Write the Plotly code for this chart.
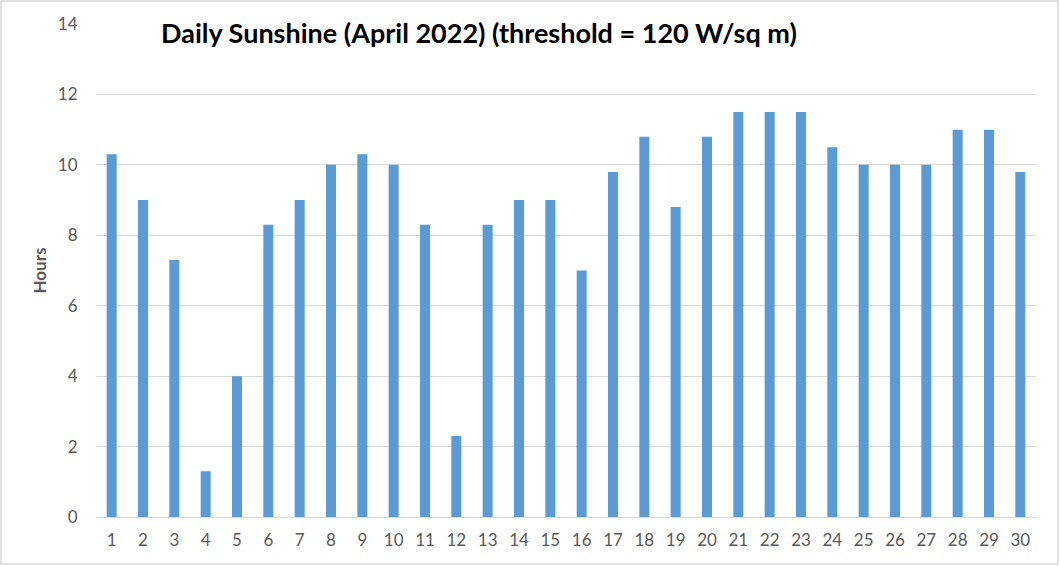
import plotly.graph_objects as go

days = [str(d) for d in range(1, 31)]
hours = [10.3, 9, 7.3, 1.3, 4, 8.3, 9, 10, 10.3, 10, 8.3, 2.3, 8.3, 9, 9, 7,
         9.8, 10.8, 8.8, 10.8, 11.5, 11.5, 11.5, 10.5, 10, 10, 10, 11, 11, 9.8]
y_ticks = [0, 2, 4, 6, 8, 10, 12, 14]
title_text = "Daily Sunshine (April 2022) (threshold = 120 W/sq m)"

W, H = 1060, 566
ml, mr, mt, mb = 96, 24, 24, 49
pw, ph = W - ml - mr, H - mt - mb

fig = go.Figure(go.Bar(x=days, y=hours, marker=dict(color="#5B9BD5", line=dict(width=0)),
                       width=0.32))

fig.update_layout(
    width=W, height=H,
    margin=dict(l=ml, r=mr, t=mt, b=mb),
    paper_bgcolor="white", plot_bgcolor="white",
    font=dict(family="Lato, Open Sans, sans-serif", color="#595959", size=17),
    showlegend=False,
    xaxis=dict(type="category", showgrid=False, showline=False, zeroline=False,
               ticks="outside", ticklen=8, tickcolor="rgba(0,0,0,0)",
               tickfont=dict(size=17, color="#595959")),
    yaxis=dict(range=[0, 14], tickvals=y_ticks, showgrid=True, gridcolor="#D9D9D9",
               gridwidth=1.3, zeroline=True, zerolinecolor="#D9D9D9", zerolinewidth=1.3,
               showline=False, ticks="outside", ticklen=14, tickcolor="rgba(0,0,0,0)",
               tickfont=dict(size=17, color="#595959"),
               title=dict(text="<b>Hours</b>", font=dict(size=17, color="#595959"), standoff=6)),
    annotations=[dict(text="<b>" + title_text + "</b>", xref="paper", yref="paper",
                      x=(479 - ml) / pw, y=1 - 8 / ph, xanchor="center", yanchor="middle",
                      showarrow=False, font=dict(size=27, color="black",
                                                 family="Lato, Open Sans, sans-serif"))],
    shapes=[dict(type="rect", xref="paper", yref="paper",
                 x0=(1 - ml) / pw, x1=(W - 2 - ml) / pw,
                 y0=-(mb - 2) / ph, y1=1 + (mt - 1) / ph,
                 line=dict(color="#D9D9D9", width=1.5), layer="below")],
)

fig.write_html("out.html", config={"displayModeBar": False},
               post_script="document.body.style.margin='0';document.body.style.overflow='hidden';")
